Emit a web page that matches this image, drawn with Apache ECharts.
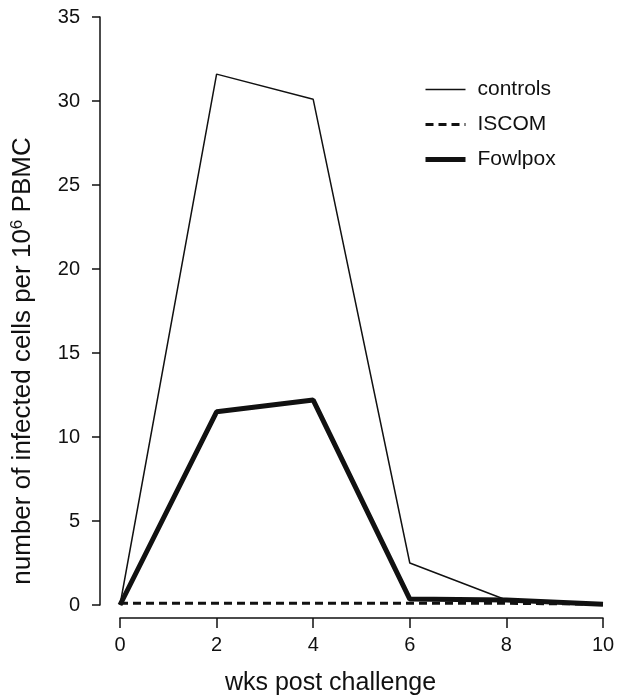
<!DOCTYPE html>
<html>
<head>
<meta charset="utf-8">
<script src="https://cdn.jsdelivr.net/npm/echarts@6/dist/echarts.min.js"></script>
<style>
  html, body { margin: 0; padding: 0; background: #fff; }
  #chart { width: 620px; height: 698px; }
</style>
</head>
<body>
<div id="chart"></div>
<script>
// weeks after challenge
const weeks = [0, 2, 4, 6, 8, 10];
const controls = [0, 31.6, 30.1, 2.5, 0.3, 0];
const iscom = [0.1, 0.1, 0.1, 0.1, 0.1, 0.05];
const fowlpox = [0, 11.5, 12.2, 0.35, 0.3, 0.05];
const seriesNames = ['controls', 'ISCOM', 'Fowlpox'];
const lineWidths = [1.5, 3, 5];

const font = 'Liberation Sans, Arial, sans-serif';
let myChart = echarts.init(document.getElementById('chart'));

function pairs(vals) {
  return weeks.map(function (w, i) { return [w, vals[i]]; });
}

myChart.setOption({
  animation: false,
  textStyle: { fontFamily: font, color: '#111' },
  grid: { left: 120, right: 17, top: 17, bottom: 93, outerBoundsMode: 'none' },
  legend: {
    orient: 'vertical',
    left: 418,
    top: 74,
    itemWidth: 40,
    itemHeight: 14,
    itemGap: 14,
    data: seriesNames.map(function (n, i) {
      return { name: n, lineStyle: { width: lineWidths[i] } };
    }),
    itemStyle: { opacity: 0 },
    textStyle: { fontFamily: font, fontSize: 21, color: '#111', padding: [0, 0, 0, 7] }
  },
  xAxis: {
    type: 'value',
    min: 0,
    max: 10,
    interval: 2,
    offset: 13,
    name: 'wks post challenge',
    nameLocation: 'middle',
    nameGap: 53,
    nameTextStyle: { fontFamily: font, fontSize: 25, color: '#111', padding: [0, 62, 0, 0] },
    axisLine: { onZero: false, lineStyle: { color: '#111', width: 1.5 } },
    axisTick: { length: 10, lineStyle: { color: '#111', width: 1.5 } },
    axisLabel: { fontFamily: font, fontSize: 20, color: '#111', margin: 17 },
    splitLine: { show: false }
  },
  yAxis: {
    type: 'value',
    min: 0,
    max: 35,
    interval: 5,
    offset: 20,
    name: 'number of infected cells per 10{sup|6} PBMC',
    nameLocation: 'middle',
    nameGap: 64,
    nameTextStyle: {
      fontFamily: font, fontSize: 26, color: '#111', padding: [0, 100, 0, 0],
      rich: { sup: { fontSize: 17, verticalAlign: 'top', padding: [0, 0, 10, 0], fontFamily: font, color: '#111' } }
    },
    axisLine: { show: true, onZero: false, lineStyle: { color: '#111', width: 1.5 } },
    axisTick: { show: true, length: 8, lineStyle: { color: '#111', width: 1.5 } },
    axisLabel: { fontFamily: font, fontSize: 20, color: '#111', margin: 20 },
    splitLine: { show: false }
  },
  series: [
    {
      name: 'controls',
      type: 'line',
      data: pairs(controls),
      symbol: 'none',
      lineStyle: { color: '#111', width: lineWidths[0] },
      itemStyle: { color: '#111' }
    },
    {
      name: 'ISCOM',
      type: 'line',
      data: pairs(iscom),
      symbol: 'none',
      lineStyle: { color: '#111', width: lineWidths[1], type: [8, 5] },
      itemStyle: { color: '#111' }
    },
    {
      name: 'Fowlpox',
      type: 'line',
      data: pairs(fowlpox),
      symbol: 'none',
      lineStyle: { color: '#111', width: lineWidths[2] },
      itemStyle: { color: '#111' }
    }
  ]
});
</script>
</body>
</html>
